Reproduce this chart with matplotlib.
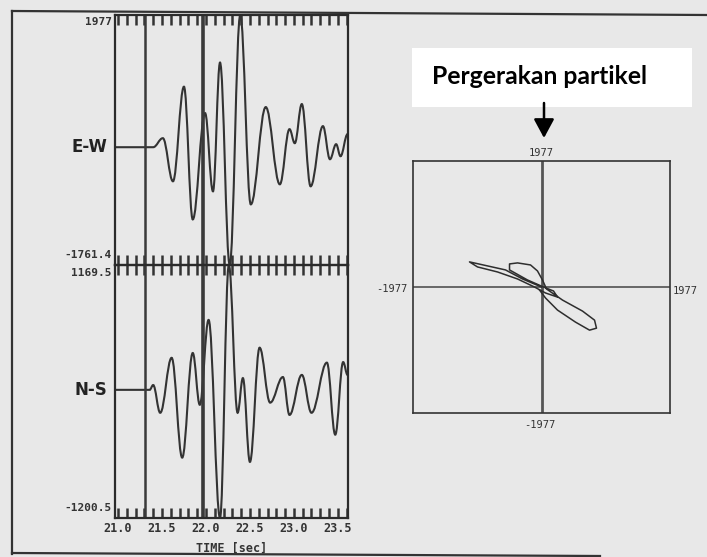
import matplotlib
matplotlib.use("Agg")
import matplotlib.pyplot as plt
from matplotlib.path import Path
from matplotlib.patches import PathPatch, Rectangle, FancyArrowPatch
from matplotlib.lines import Line2D
from matplotlib.ticker import MultipleLocator, FormatStrFormatter

# ---- data -------------------------------------------------------------
# E-W component: turning points of the trace (time [s], amplitude)
ew_time = [20.97, 21.40, 21.51, 21.625, 21.75, 21.85, 21.99, 22.08, 22.16,
           22.27, 22.39, 22.51, 22.68, 22.84, 22.95, 23.01, 23.09, 23.19,
           23.33, 23.41, 23.48, 23.53, 23.61]
ew_amp = [0, 0, 135, -510, 905, -1080, 510, -660, 1265, -1761.4, 1977, -855,
          600, -555, 270, 60, 645, -585, 315, -180, 45, -135, 195]

# N-S component: turning points of the trace (time [s], amplitude)
ns_time = [20.97, 21.36, 21.40, 21.48, 21.61, 21.73, 21.85, 21.93, 22.03,
           22.16, 22.26, 22.36, 22.42, 22.50, 22.61, 22.73, 22.875, 22.95,
           23.09, 23.20, 23.375, 23.47, 23.56, 23.61]
ns_amp = [0, 0, 45, -215, 300, -635, 345, -140, 655, -1200.5, 1169.5, -215,
          110, -675, 395, -120, 120, -235, 140, -215, 255, -420, 260, 140]

ew_limits = (-1761.4, 1977)
ns_limits = (-1200.5, 1169.5)
time_limits = (20.966, 23.615)
pick_times = [21.307, 21.966]

# particle motion (E-W on x, N-S on y)
pm_x = [0, -292, -554, -831, -1108, -985, -677, -369, -108, 62, 246, 185, 31,
        -215, -492, -492, -369, -169, -62, 15, 77, 323, 631, 816, 846, 739,
        523, 246, 62, -31]
pm_y = [0, 126, 268, 331, 394, 315, 236, 126, 0, -94, -158, -63, 0, 110, 268,
        362, 378, 346, 252, 110, -31, -205, -378, -520, -646, -677, -551,
        -362, -173, -47]
pm_limit = 1977

# ---- figure -----------------------------------------------------------
W, H = 707, 557
BG = "#e8e8e8"
INK = "#2b2b2b"
MONO = "DejaVu Sans Mono"

fig = plt.figure(figsize=(W / 100, H / 100), dpi=100, facecolor=BG)


def fx(px):
    return px / W


def fy(py):
    return 1 - py / H


def trace_path(t, v):
    """Smooth trace through turning points (horizontal tangent at each)."""
    verts = [(t[0], v[0])]
    codes = [Path.MOVETO]
    for i in range(len(t) - 1):
        d = (t[i + 1] - t[i]) * 0.38
        verts += [(t[i] + d, v[i]), (t[i + 1] - d, v[i + 1]), (t[i + 1], v[i + 1])]
        codes += [Path.CURVE4] * 3
    return Path(verts, codes)


ax_ew = fig.add_axes([fx(115), fy(265), (348 - 115) / W, (265 - 15) / H])
ax_ns = fig.add_axes([fx(115), fy(518), (348 - 115) / W, (518 - 265) / H])

for ax, t, v, lim in ((ax_ew, ew_time, ew_amp, ew_limits),
                      (ax_ns, ns_time, ns_amp, ns_limits)):
    ax.set_facecolor("none")
    ax.set_xlim(*time_limits)
    ax.set_ylim(*lim)
    ax.add_patch(PathPatch(trace_path(t, v), fill=False, ec="#333333", lw=1.5))
    for k, tp in enumerate(pick_times):
        ax.axvline(tp, color="#3a3a3a", lw=1.8 if k == 0 else 2.6)
    for s in ax.spines.values():
        s.set_color(INK)
        s.set_linewidth(1.6)
    ax.set_yticks([])
    ax.xaxis.set_major_locator(MultipleLocator(0.5))
    ax.xaxis.set_minor_locator(MultipleLocator(0.1))
    ax.tick_params(axis="x", which="both", direction="in", top=True,
                   bottom=True, length=7, width=1.8, color="#333333")

ax_ew.tick_params(axis="x", labelbottom=False)
ax_ns.xaxis.set_major_formatter(FormatStrFormatter("%.1f"))
for lab in ax_ns.get_xticklabels():
    lab.set_fontfamily(MONO)
    lab.set_fontweight("bold")
    lab.set_fontsize(8.5)
    lab.set_color("#333333")
ax_ns.tick_params(axis="x", pad=3)
ax_ns.set_xlabel("TIME [sec]", fontfamily=MONO, fontweight="bold",
                 fontsize=8.5, color="#333333", labelpad=5)

# amplitude range labels and component names
lab_kw = dict(fontfamily=MONO, fontweight="bold", fontsize=8, color="#333333",
              ha="right", va="center", xycoords="axes fraction",
              textcoords="offset pixels")
ax_ew.annotate("1977", (0, 1), xytext=(-3, -7), **lab_kw)
ax_ew.annotate("-1761.4", (0, 0), xytext=(-3, 10), **lab_kw)
ax_ns.annotate("1169.5", (0, 1), xytext=(-3, -8), **lab_kw)
ax_ns.annotate("-1200.5", (0, 0), xytext=(-3, 10), **lab_kw)

name_kw = dict(fontfamily="DejaVu Sans", fontweight="bold", fontsize=12,
               color="#222222", ha="right", va="center")
ax_ew.annotate("E-W", (ew_time[0], 0), xycoords="data", xytext=(-8, 0),
               textcoords="offset pixels", **name_kw)
ax_ns.annotate("N-S", (ns_time[0], 0), xycoords="data", xytext=(-8, 0),
               textcoords="offset pixels", **name_kw)

# ---- particle motion --------------------------------------------------
ax_pm = fig.add_axes([fx(413), fy(413), (670 - 413) / W, (413 - 161) / H])
ax_pm.set_facecolor("none")
ax_pm.set_xlim(-pm_limit, pm_limit)
ax_pm.set_ylim(-pm_limit, pm_limit)
ax_pm.set_xticks([])
ax_pm.set_yticks([])
for s in ax_pm.spines.values():
    s.set_color("#333333")
    s.set_linewidth(1.2)
ax_pm.axhline(0, color="#444444", lw=1.1)
ax_pm.axvline(0, color="#555555", lw=2.0)
ax_pm.plot(pm_x, pm_y, color="#2e2e2e", lw=1.1)

pm_kw = dict(fontfamily=MONO, fontsize=7.5, color="#333333",
             xycoords="axes fraction", textcoords="offset pixels")
ax_pm.annotate(f"{pm_limit}", (0.5, 1), xytext=(0, 8), ha="center",
               va="center", **pm_kw)
ax_pm.annotate(f"-{pm_limit}", (0.5, 0), xytext=(-2, -12), ha="center",
               va="center", **pm_kw)
ax_pm.annotate(f"-{pm_limit}", (0, 0.5), xytext=(-6, -2), ha="right",
               va="center", **pm_kw)
ax_pm.annotate(f"{pm_limit}", (1, 0.5), xytext=(3, -4), ha="left",
               va="center", **pm_kw)

# ---- outer frame ------------------------------------------------------
frame_kw = dict(color="#333333", lw=1.6, transform=fig.transFigure)
fig.add_artist(Line2D([fx(12), fx(12)], [fy(11), fy(554)], **frame_kw))
fig.add_artist(Line2D([fx(12), fx(707)], [fy(11), fy(15)], **frame_kw))
fig.add_artist(Line2D([fx(12), fx(600)], [fy(553), fy(556)], **frame_kw))

# ---- caption box with arrow ------------------------------------------
fig.add_artist(Rectangle((fx(412), fy(107)), (692 - 412) / W, (107 - 48) / H,
                         transform=fig.transFigure, fc="white", ec="none"))
fig.text(fx(540), fy(84), "Pergerakan partikel", fontfamily="Lato",
         fontweight="bold", fontsize=17.8, color="black", ha="center",
         va="baseline")
fig.add_artist(FancyArrowPatch((fx(544), fy(103)), (fx(544), fy(138)),
                               transform=fig.transFigure,
                               arrowstyle="-|>,head_length=1.15,head_width=0.62",
                               mutation_scale=10, lw=1.8, color="black",
                               shrinkA=0, shrinkB=0))

fig.savefig("out.png", dpi=100, facecolor=BG)
